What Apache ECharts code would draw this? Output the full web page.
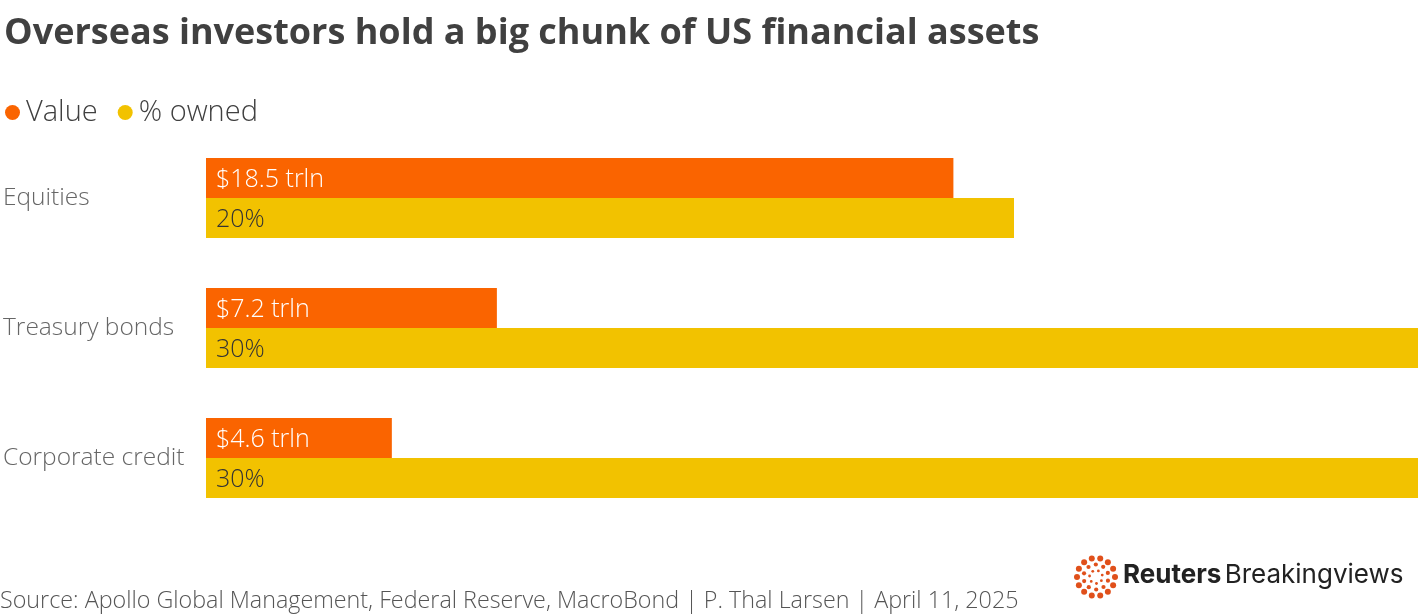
<!DOCTYPE html>
<html><head><meta charset="utf-8">
<script src="https://cdn.jsdelivr.net/npm/echarts@6/dist/echarts.min.js"></script>
<style>html,body{margin:0;padding:0;background:#fff}#c{width:1420px;height:616px}</style>
</head><body><div id="c"></div>
<script>
const categories = ['Equities', 'Treasury bonds', 'Corporate credit'];
const valueTrln = [18.5, 7.2, 4.6];
const pctOwned = [20, 30, 30];
const valueLabels = ['$18.5 trln', '$7.2 trln', '$4.6 trln'];
const pctLabels = ['20%', '30%', '30%'];

const FONT = 'Open Sans';
const chart = echarts.init(document.getElementById('c'), null, {renderer: 'canvas'});

// logo dots (decorative)
const dots = [];
const cx = 1096, cy = 577;
[[19, 14, 3.0], [12.5, 10, 2.1], [6.5, 7, 1.4]].forEach(([r, n, s], k) => {
  for (let i = 0; i < n; i++) {
    const a = (i / n) * Math.PI * 2 + k * 0.3;
    dots.push({type: 'circle', shape: {cx: cx + r * Math.cos(a), cy: cy + r * Math.sin(a), r: s}, style: {fill: '#E0501B'}});
  }
});

chart.setOption({
  animation: false,
  title: {
    text: 'Overseas investors hold a big chunk of US financial assets',
    left: -1, top: 11,
    textStyle: {fontFamily: FONT, fontWeight: 'bold', fontSize: 36, color: '#404040'}
  },
  legend: {
    left: 0, top: 93, icon: 'circle', itemWidth: 15, itemHeight: 15, itemGap: 20,
    textStyle: {fontFamily: FONT, fontWeight: 300, fontSize: 29, color: '#404040', padding: [0, 0, 0, 1]},
    data: ['Value', '% owned']
  },
  grid: {left: 206, right: 2, top: 133, bottom: 93},
  xAxis: {type: 'value', min: 0, max: 30, show: false},
  yAxis: {
    type: 'category', data: categories, inverse: true,
    axisLine: {show: false}, axisTick: {show: false},
    axisLabel: {align: 'left', margin: 203, fontFamily: FONT, fontWeight: 300, fontSize: 24.5, color: '#666'}
  },
  series: [
    {
      name: 'Value', type: 'bar', data: valueTrln, barWidth: 40, barGap: '0%',
      itemStyle: {color: '#FA6400'},
      label: {show: true, position: 'insideLeft', distance: 10, offset: [0, 2],
        formatter: p => valueLabels[p.dataIndex],
        fontFamily: FONT, fontWeight: 300, fontSize: 25, color: '#fff'}
    },
    {
      name: '% owned', type: 'bar', data: pctOwned, barWidth: 40,
      itemStyle: {color: '#F2C200'},
      label: {show: true, position: 'insideLeft', distance: 10, offset: [0, 2],
        formatter: p => pctLabels[p.dataIndex],
        fontFamily: FONT, fontWeight: 300, fontSize: 25, color: '#333'}
    }
  ],
  graphic: [
    {type: 'text', left: 0, top: 590, style: {text: 'Source: Apollo Global Management, Federal Reserve, MacroBond | P. Thal Larsen | April 11, 2025', fontFamily: FONT, fontWeight: 300, fontSize: 23.3, fill: '#555'}},
    {type: 'text', left: 1123, top: 562, style: {
      text: '{b|Reuters} {n|Breakingviews}',
      rich: {
        b: {fontFamily: 'Inter', fontWeight: 'bold', fontSize: 26, fill: '#222', color: '#222'},
        n: {fontFamily: 'Inter', fontWeight: 'normal', fontSize: 26, fill: '#222', color: '#222'}
      }}},
    ...dots
  ]
});
</script></body></html>
